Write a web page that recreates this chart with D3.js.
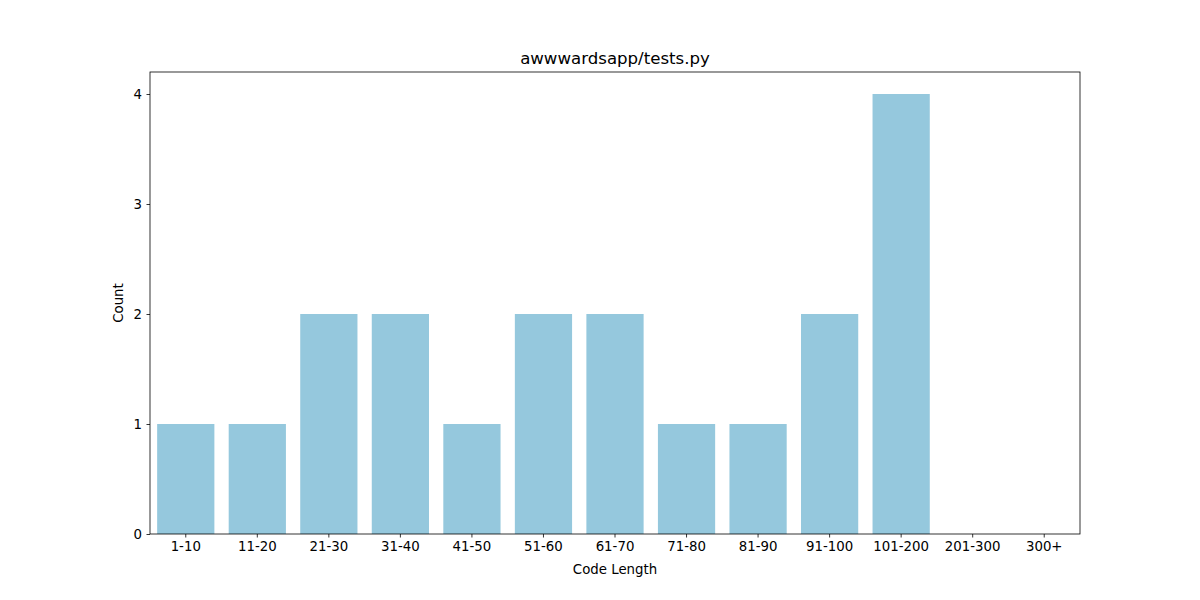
<!DOCTYPE html>
<html>
<head>
<meta charset="utf-8">
<script src="https://cdn.jsdelivr.net/npm/d3@7"></script>
<style>
body{margin:0;background:#fff;}
svg{display:block;font-family:"DejaVu Sans",sans-serif;}
</style>
</head>
<body>
<svg id="chart" width="1200" height="600"></svg>
<script>
const categories = ["1-10","11-20","21-30","31-40","41-50","51-60","61-70","71-80","81-90","91-100","101-200","201-300","300+"];
const counts = [1,1,2,2,1,2,2,1,1,2,4,0,0];
const yTicks = [0,1,2,3,4];
const title = "awwwardsapp/tests.py";
const xLabel = "Code Length";
const yLabel = "Count";

const svg = d3.select("#chart");
const m = {left:150, right:120, top:72, bottom:66};
const W = 1200, H = 600;
const iw = W - m.left - m.right, ih = H - m.top - m.bottom;

const x = d3.scaleBand().domain(categories).range([0, iw]).paddingInner(0.2).paddingOuter(0.1);
const y = d3.scaleLinear().domain([0, 4.2]).range([ih, 0]);

const g = svg.append("g").attr("transform", `translate(${m.left},${m.top})`);

g.selectAll("rect.bar").data(categories.map((c,i)=>({c, v:counts[i]}))).join("rect")
  .attr("class","bar")
  .attr("x", d=>x(d.c))
  .attr("width", x.bandwidth())
  .attr("y", d=>y(d.v))
  .attr("height", d=>ih - y(d.v))
  .attr("fill", "#95c8dd");

const xa = g.append("g").attr("transform", `translate(0,${ih})`)
  .call(d3.axisBottom(x).tickSize(3.5).tickPadding(4.5));
const ya = g.append("g")
  .call(d3.axisLeft(y).tickValues(yTicks).tickFormat(d3.format("d")).tickSize(3.5).tickPadding(4.5));
[xa, ya].forEach(a=>{
  a.select(".domain").remove();
  a.selectAll("text").attr("font-size","13.33px").attr("font-family","DejaVu Sans").attr("fill","#000");
  a.selectAll("line").attr("stroke","#000").attr("stroke-width",0.8);
});

g.append("rect").attr("x",0).attr("y",0).attr("width",iw).attr("height",ih)
  .attr("fill","none").attr("stroke","#000").attr("stroke-width",0.8);

svg.append("text").attr("x", m.left + iw/2).attr("y", m.top - 8)
  .attr("text-anchor","middle").attr("font-size","16.6px").text(title);
svg.append("text").attr("x", m.left + iw/2).attr("y", 574)
  .attr("text-anchor","middle").attr("font-size","13.33px").text(xLabel);
svg.append("text").attr("transform", `translate(123,${m.top + ih/2}) rotate(-90)`)
  .attr("text-anchor","middle").attr("font-size","13.33px").text(yLabel);
</script>
</body>
</html>
